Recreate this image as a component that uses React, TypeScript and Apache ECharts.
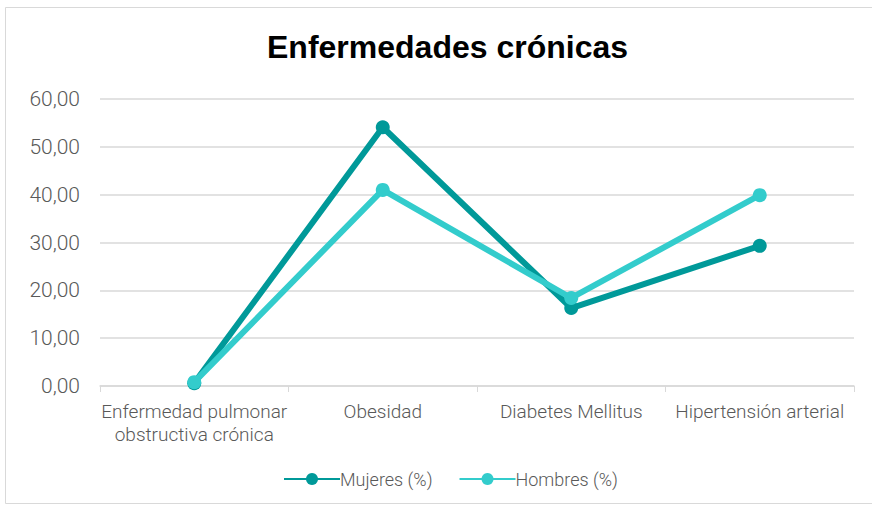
import React, { useEffect, useRef } from "react";
import * as echarts from "echarts";

const categories = [
  "Enfermedad pulmonar\nobstructiva crónica",
  "Obesidad",
  "Diabetes Mellitus",
  "Hipertensión arterial",
];
const mujeres = [0.6, 54.1, 16.3, 29.3];
const hombres = [0.8, 41.0, 18.4, 39.9];
const seriesNames = ["Mujeres (%)", "Hombres (%)"];
const title = "Enfermedades crónicas";

export default function App() {
  const ref = useRef<HTMLDivElement>(null);
  useEffect(() => {
    document.body.style.margin = "0";
    const chart = echarts.init(ref.current!, null, { renderer: "svg" });
    const font = "Roboto";
    chart.setOption({
      animation: false,
      backgroundColor: "#fff",
      title: {
        text: title,
        left: 262,
        top: 26,
        textStyle: { fontFamily: "Liberation Sans, Arial", fontWeight: "bold", fontSize: 32, color: "#000" },
      },
      graphic: [
        {
          type: "rect",
          shape: { x: 5.5, y: 7.5, width: 900, height: 496 },
          style: { fill: "none", stroke: "#d9d9d9", lineWidth: 1 },
          silent: true,
        },
      ],
      legend: {
        bottom: 15,
        left: 278,
        itemWidth: 56,
        itemHeight: 15,
        itemGap: 26,
        textStyle: { fontFamily: font, fontWeight: 300, fontSize: 18, color: "#595959", padding: [0, 0, 0, -5] },
        data: seriesNames,
      },
      grid: { left: 100, right: 18, top: 99, bottom: 122 },
      xAxis: {
        type: "category",
        data: categories,
        boundaryGap: true,
        axisLine: { lineStyle: { color: "#d9d9d9", width: 1.5 } },
        axisTick: { show: true, lineStyle: { color: "#d9d9d9" }, length: 6 },
        axisLabel: { interval: 0, fontFamily: font, fontWeight: 300, fontSize: 19, color: "#595959", margin: 14, lineHeight: 23 },
      },
      yAxis: {
        type: "value",
        min: 0,
        max: 60,
        interval: 10,
        axisLine: { show: false },
        axisTick: { show: false },
        splitLine: { lineStyle: { color: "#d9d9d9", width: 1.5 } },
        axisLabel: {
          fontFamily: font,
          fontWeight: 300,
          fontSize: 21,
          color: "#595959",
          margin: 20,
          formatter: (v: number) => v.toFixed(2).replace(".", ","),
        },
      },
      series: [
        {
          name: seriesNames[0],
          type: "line",
          data: mujeres,
          color: "#009999",
          symbol: "circle",
          symbolSize: 14,
          lineStyle: { width: 6, color: "#009999" },
          itemStyle: { color: "#009999" },
          z: 2,
        },
        {
          name: seriesNames[1],
          type: "line",
          data: hombres,
          color: "#33cccc",
          symbol: "circle",
          symbolSize: 14,
          lineStyle: { width: 6, color: "#33cccc" },
          itemStyle: { color: "#33cccc" },
          z: 3,
        },
      ],
    });
    return () => chart.dispose();
  }, []);
  return <div ref={ref} style={{ width: 872, height: 508 }} />;
}
